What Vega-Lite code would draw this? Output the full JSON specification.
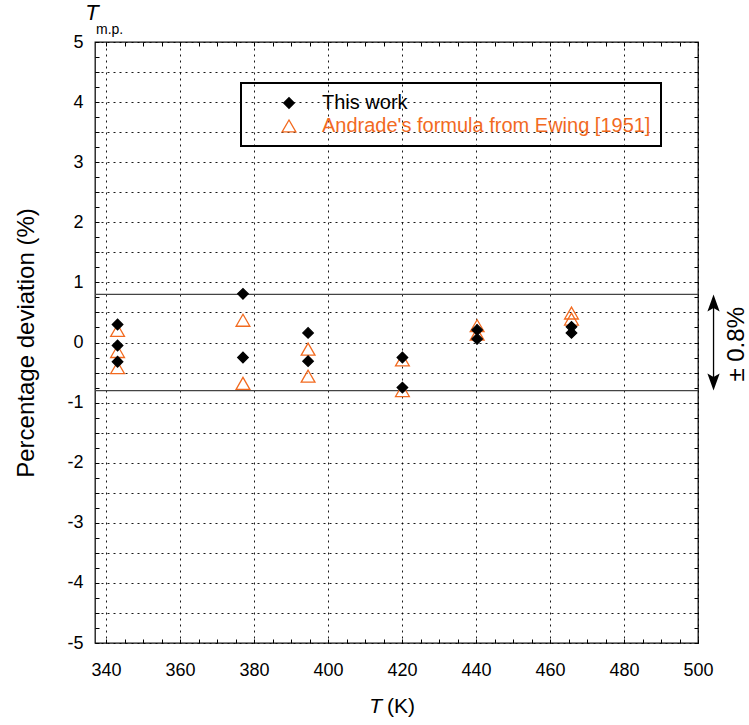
{
  "$schema": "https://vega.github.io/schema/vega-lite/v6.json",
  "width": 603,
  "height": 601,
  "autosize": "none",
  "padding": {"left": 95, "top": 42, "right": 51, "bottom": 82},
  "config": {
    "font": "Liberation Sans",
    "view": {"stroke": "#111", "strokeWidth": 1.3},
    "legend": {"strokeWidth": 2}
  },
  "datasets": {
    "pts": [
      {"T": 343.1, "dev": 0.20, "series": "Andrade's formula from Ewing [1951]"},
      {"T": 343.1, "dev": -0.15, "series": "Andrade's formula from Ewing [1951]"},
      {"T": 343.1, "dev": -0.42, "series": "Andrade's formula from Ewing [1951]"},
      {"T": 377.0, "dev": 0.37, "series": "Andrade's formula from Ewing [1951]"},
      {"T": 377.0, "dev": -0.68, "series": "Andrade's formula from Ewing [1951]"},
      {"T": 394.6, "dev": -0.11, "series": "Andrade's formula from Ewing [1951]"},
      {"T": 394.6, "dev": -0.56, "series": "Andrade's formula from Ewing [1951]"},
      {"T": 420.1, "dev": -0.29, "series": "Andrade's formula from Ewing [1951]"},
      {"T": 420.1, "dev": -0.80, "series": "Andrade's formula from Ewing [1951]"},
      {"T": 440.3, "dev": 0.28, "series": "Andrade's formula from Ewing [1951]"},
      {"T": 440.3, "dev": 0.14, "series": "Andrade's formula from Ewing [1951]"},
      {"T": 465.8, "dev": 0.49, "series": "Andrade's formula from Ewing [1951]"},
      {"T": 465.8, "dev": 0.39, "series": "Andrade's formula from Ewing [1951]"},
      {"T": 343.1, "dev": 0.30, "series": "This work"},
      {"T": 343.1, "dev": -0.05, "series": "This work"},
      {"T": 343.1, "dev": -0.32, "series": "This work"},
      {"T": 377.0, "dev": 0.81, "series": "This work"},
      {"T": 377.0, "dev": -0.25, "series": "This work"},
      {"T": 394.6, "dev": 0.16, "series": "This work"},
      {"T": 394.6, "dev": -0.31, "series": "This work"},
      {"T": 420.1, "dev": -0.25, "series": "This work"},
      {"T": 420.1, "dev": -0.75, "series": "This work"},
      {"T": 440.3, "dev": 0.21, "series": "This work"},
      {"T": 440.3, "dev": 0.06, "series": "This work"},
      {"T": 465.8, "dev": 0.26, "series": "This work"},
      {"T": 465.8, "dev": 0.16, "series": "This work"}
    ],
    "band": [{"v": 0.8}, {"v": -0.8}],
    "one": [{}]
  },
  "resolve": {"axis": {"x": "independent", "y": "independent"}},
  "layer": [
    {
      "data": {"name": "pts"},
      "mark": {"type": "point", "opacity": 0},
      "encoding": {
        "x": {"field": "T", "type": "quantitative",
          "scale": {"domain": [337, 500], "nice": false, "zero": false},
          "axis": {"orient": "bottom",
            "values": [340,345,350,355,360,365,370,375,380,385,390,395,400,405,410,415,420,425,430,435,440,445,450,455,460,465,470,475,480,485,490,495,500],
            "labelExpr": "datum.value % 20 === 0 ? '' + datum.value : ''",
            "labelOverlap": false, "labelFlush": false, "labelBound": false,
            "labelFontSize": 18, "labelColor": "black", "labelPadding": 22,
            "tickSize": -4, "tickColor": "black",
            "grid": true, "gridDash": [2, 4], "gridColor": "black",
            "gridOpacity": {"condition": {"test": "datum.value % 20 === 0", "value": 0.9}, "value": 0},
            "domain": false, "title": null}},
        "y": {"field": "dev", "type": "quantitative",
          "scale": {"domain": [-5, 5], "nice": false, "zero": false},
          "axis": {"orient": "left",
            "values": [-5,-4.75,-4.5,-4.25,-4,-3.75,-3.5,-3.25,-3,-2.75,-2.5,-2.25,-2,-1.75,-1.5,-1.25,-1,-0.75,-0.5,-0.25,0,0.25,0.5,0.75,1,1.25,1.5,1.75,2,2.25,2.5,2.75,3,3.25,3.5,3.75,4,4.25,4.5,4.75,5],
            "labelExpr": "datum.value % 1 === 0 ? '' + datum.value : ''",
            "labelOverlap": false, "labelFlush": false, "labelBound": false,
            "labelFontSize": 18, "labelColor": "black", "labelPadding": 16,
            "tickSize": -4, "tickColor": "black",
            "grid": true, "gridDash": [2, 4], "gridColor": "black",
            "gridOpacity": {"condition": {"test": "datum.value % 0.5 === 0", "value": 0.9}, "value": 0},
            "domain": false,
            "title": "Percentage deviation (%)", "titleFontSize": 24, "titleFontWeight": "normal",
            "titleColor": "black", "titlePadding": 28}}
      }
    },
    {
      "data": {"name": "pts"},
      "mark": {"type": "point", "opacity": 0},
      "encoding": {
        "x": {"field": "T", "type": "quantitative",
          "axis": {"orient": "top",
            "values": [340,345,350,355,360,365,370,375,380,385,390,395,400,405,410,415,420,425,430,435,440,445,450,455,460,465,470,475,480,485,490,495,500],
            "labels": false, "tickSize": -4, "tickColor": "black", "grid": false, "domain": false, "title": null}},
        "y": {"field": "dev", "type": "quantitative",
          "axis": {"orient": "right",
            "values": [-5,-4.75,-4.5,-4.25,-4,-3.75,-3.5,-3.25,-3,-2.75,-2.5,-2.25,-2,-1.75,-1.5,-1.25,-1,-0.75,-0.5,-0.25,0,0.25,0.5,0.75,1,1.25,1.5,1.75,2,2.25,2.5,2.75,3,3.25,3.5,3.75,4,4.25,4.5,4.75,5],
            "labels": false, "tickSize": -4, "tickColor": "black", "grid": false, "domain": false, "title": null}}
      }
    },
    {
      "data": {"name": "band"},
      "mark": {"type": "rule", "color": "#444", "strokeWidth": 1.2},
      "encoding": {
        "y": {"field": "v", "type": "quantitative", "axis": null}
      }
    },
    {
      "data": {"name": "pts"},
      "mark": {"type": "point", "strokeWidth": 1.3, "opacity": 1},
      "encoding": {
        "x": {"field": "T", "type": "quantitative", "axis": null},
        "y": {"field": "dev", "type": "quantitative", "axis": null},
        "shape": {"field": "series", "type": "nominal",
          "scale": {"domain": ["This work", "Andrade's formula from Ewing [1951]"], "range": ["diamond", "triangle-up"]},
          "legend": {"title": null, "orient": "none", "legendX": 146, "legendY": 41,
            "strokeColor": "black", "padding": 10, "symbolOffset": 28, "labelOffset": 23,
            "labelFontSize": 20, "labelLimit": 0, "rowPadding": 3, "symbolStrokeWidth": 1.3,
            "labelColor": {"expr": "datum.label == 'This work' ? 'black' : '#f26a1f'"}}},
        "fill": {"field": "series", "type": "nominal",
          "scale": {"domain": ["This work", "Andrade's formula from Ewing [1951]"], "range": ["black", "transparent"]}},
        "stroke": {"field": "series", "type": "nominal",
          "scale": {"domain": ["This work", "Andrade's formula from Ewing [1951]"], "range": ["black", "#f26a1f"]}},
        "size": {"field": "series", "type": "nominal",
          "scale": {"domain": ["This work", "Andrade's formula from Ewing [1951]"], "range": [110, 190]}}
      }
    },
    {
      "data": {"name": "one"},
      "mark": {"type": "rule", "color": "black", "strokeWidth": 1.3},
      "encoding": {
        "x": {"datum": 504.2, "type": "quantitative", "axis": null},
        "y": {"datum": 0.7, "type": "quantitative", "axis": null},
        "y2": {"datum": -0.7}
      }
    },
    {
      "data": {"name": "one"},
      "mark": {"type": "point", "filled": true, "color": "black", "opacity": 1, "size": 1156, "shape": "M0,0L0.36,1L0,0.8L-0.36,1Z"},
      "encoding": {
        "x": {"datum": 504.2, "type": "quantitative", "axis": null},
        "y": {"datum": 0.8, "type": "quantitative", "axis": null}
      }
    },
    {
      "data": {"name": "one"},
      "mark": {"type": "point", "filled": true, "color": "black", "opacity": 1, "size": 1156, "shape": "M0,0L0.36,-1L0,-0.8L-0.36,-1Z"},
      "encoding": {
        "x": {"datum": 504.2, "type": "quantitative", "axis": null},
        "y": {"datum": -0.8, "type": "quantitative", "axis": null}
      }
    },
    {
      "data": {"name": "one"},
      "mark": {"type": "text", "text": "± 0.8%", "angle": 270, "fontSize": 24, "align": "center", "baseline": "middle", "color": "black"},
      "encoding": {
        "x": {"datum": 510.6, "type": "quantitative", "axis": null},
        "y": {"datum": -0.03, "type": "quantitative", "axis": null}
      }
    },
    {
      "data": {"name": "one"},
      "mark": {"type": "text", "text": "T", "fontStyle": "italic", "fontSize": 22, "align": "center", "baseline": "top", "dx": -3, "dy": -39, "color": "black"},
      "encoding": {
        "x": {"datum": 337, "type": "quantitative", "axis": null},
        "y": {"datum": 5, "type": "quantitative", "axis": null}
      }
    },
    {
      "data": {"name": "one"},
      "mark": {"type": "text", "text": "m.p.", "fontSize": 14, "align": "left", "baseline": "alphabetic", "dx": 1, "dy": -8, "color": "black"},
      "encoding": {
        "x": {"datum": 337, "type": "quantitative", "axis": null},
        "y": {"datum": 5, "type": "quantitative", "axis": null}
      }
    },
    {
      "data": {"name": "one"},
      "mark": {"type": "text", "text": "T", "fontStyle": "italic", "fontSize": 21, "align": "right", "baseline": "alphabetic", "dx": -3, "dy": 70, "color": "black"},
      "encoding": {
        "x": {"datum": 415.4, "type": "quantitative", "axis": null},
        "y": {"datum": -5, "type": "quantitative", "axis": null}
      }
    },
    {
      "data": {"name": "one"},
      "mark": {"type": "text", "text": "(K)", "fontSize": 21, "align": "left", "baseline": "alphabetic", "dx": 2, "dy": 70, "color": "black"},
      "encoding": {
        "x": {"datum": 415.4, "type": "quantitative", "axis": null},
        "y": {"datum": -5, "type": "quantitative", "axis": null}
      }
    }
  ]
}
